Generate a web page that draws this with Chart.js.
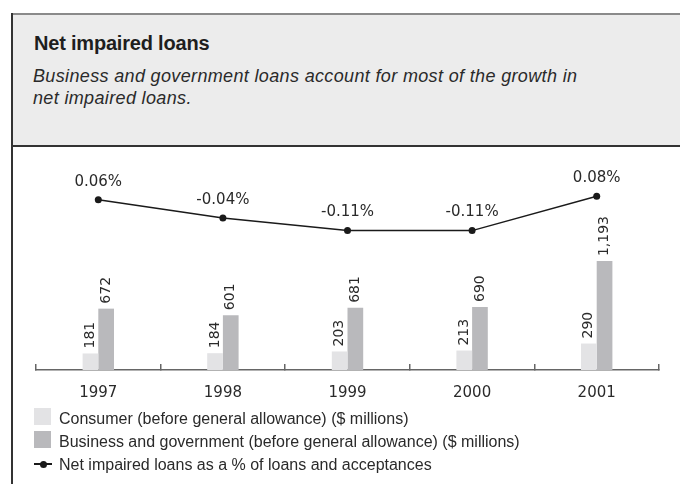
<!DOCTYPE html>
<html><head><meta charset="utf-8">
<script src="https://cdn.jsdelivr.net/npm/chart.js@4.4.0/dist/chart.umd.min.js"></script>
<style>
html,body{margin:0;padding:0;background:#fff;}
body{width:680px;height:484px;position:relative;overflow:hidden;font-family:"Liberation Sans",Arial,sans-serif;color:#222;}
.abs{position:absolute;}
#hbg{left:12px;top:14px;width:668px;height:131px;background:#ececec;}
#htop{left:11px;top:13px;width:669px;height:1.5px;background:#8a8a8a;}
#hbot{left:11px;top:145px;width:669px;height:2px;background:#333;}
#lline{left:11px;top:13px;width:1.6px;height:471px;background:#333;}
#title{left:34px;top:31px;font-size:20px;line-height:24px;font-weight:bold;letter-spacing:-0.2px;white-space:nowrap;color:#1e1e1e;}
#sub{left:33px;top:65px;font-size:18px;line-height:22px;font-style:italic;letter-spacing:0.35px;white-space:nowrap;color:#2a2a2a;}
#wrap{left:0;top:147px;width:680px;height:280px;}
.sw{position:absolute;width:17px;height:17px;}
.lt{position:absolute;font-size:16px;line-height:20px;white-space:nowrap;color:#2a2a2a;}
</style>
</head><body>
<div id="hbg" class="abs"></div>
<div id="htop" class="abs"></div>
<div id="hbot" class="abs"></div>
<div id="lline" class="abs"></div>
<div id="title" class="abs">Net impaired loans</div>
<div id="sub" class="abs">Business and government loans account for most of the growth in<br>net impaired loans.</div>
<div id="wrap" class="abs"><canvas id="c"></canvas></div>
<div id="legend"></div>
<script>
const years = ['1997', '1998', '1999', '2000', '2001'];
const consumer = [181, 184, 203, 213, 290];
const business = [672, 601, 681, 690, 1193];
const netPct = [0.06, -0.04, -0.11, -0.11, 0.08];
const seriesNames = [
  'Consumer (before general allowance) ($ millions)',
  'Business and government (before general allowance) ($ millions)',
  'Net impaired loans as a % of loans and acceptances'
];
const colors = ['#e3e3e5', '#b9b9bc', '#1a1a1a'];

// legend
(function(){
  const lg = document.getElementById('legend');
  const tops = [408, 431, 454];
  seriesNames.forEach((name, i) => {
    if (i < 2) {
      const s = document.createElement('div');
      s.className = 'sw';
      s.style.left = '34px'; s.style.top = tops[i] + 'px';
      s.style.background = colors[i];
      lg.appendChild(s);
    } else {
      const l = document.createElement('div');
      l.className = 'abs';
      l.style.cssText = 'left:34px;top:463.3px;width:18px;height:1.5px;background:' + colors[2];
      lg.appendChild(l);
      const d = document.createElement('div');
      d.className = 'abs';
      d.style.cssText = 'left:39.5px;top:460.5px;width:7px;height:7px;border-radius:50%;background:' + colors[2];
      lg.appendChild(d);
    }
    const t = document.createElement('div');
    t.className = 'lt';
    t.style.left = '59px'; t.style.top = (tops[i] + 0.5) + 'px';
    t.textContent = name;
    lg.appendChild(t);
  });
})();

const labelPlugin = {
  id: 'valueLabels',
  afterDatasetsDraw(chart) {
    const ctx = chart.ctx;
    [0, 1].forEach(di => {
      const meta = chart.getDatasetMeta(di);
      meta.data.forEach((bar, i) => {
        const v = chart.data.datasets[di].data[i];
        ctx.save();
        ctx.translate(bar.x, bar.y - 5);
        ctx.rotate(-Math.PI / 2);
        ctx.font = '14px "DejaVu Sans"';
        ctx.fillStyle = '#2a2a2a';
        ctx.textAlign = 'left';
        ctx.textBaseline = 'middle';
        ctx.fillText(v.toLocaleString('en-US'), 0, 0);
        ctx.restore();
      });
    });
    const lm = chart.getDatasetMeta(2);
    lm.data.forEach((pt, i) => {
      const v = chart.data.datasets[2].data[i];
      ctx.save();
      ctx.font = '15px "DejaVu Sans"';
      ctx.fillStyle = '#2a2a2a';
      ctx.textAlign = 'center';
      ctx.textBaseline = 'middle';
      ctx.fillText(v.toFixed(2) + '%', pt.x, pt.y - 18);
      ctx.restore();
    });
  }
};

new Chart(document.getElementById('c'), {
  data: {
    labels: years,
    datasets: [
      { type: 'bar', label: seriesNames[0], data: consumer, backgroundColor: colors[0], yAxisID: 'y', categoryPercentage: 0.252, barPercentage: 1, order: 2 },
      { type: 'bar', label: seriesNames[1], data: business, backgroundColor: colors[1], yAxisID: 'y', categoryPercentage: 0.252, barPercentage: 1, order: 2 },
      { type: 'line', label: seriesNames[2], data: netPct, yAxisID: 'y2', borderColor: colors[2], borderWidth: 1.5, pointRadius: 3.5, pointBackgroundColor: colors[2], pointBorderWidth: 0, tension: 0, order: 0 }
    ]
  },
  options: {
    responsive: true,
    maintainAspectRatio: false,
    animation: false,
    layout: { padding: { left: 36, right: 21, top: 13, bottom: 5 } },
    plugins: { legend: { display: false }, tooltip: { enabled: false }, title: { display: false } },
    scales: {
      x: {
        offset: true,
        grid: { offset: true, drawOnChartArea: false, drawTicks: true, tickLength: -6, color: '#666', lineWidth: 1.5 },
        border: { display: true, color: '#666', width: 1.5 },
        ticks: { font: { family: 'DejaVu Sans', size: 15 }, color: '#2a2a2a', padding: 20 }
      },
      y: { display: false, min: 0, max: 2300 },
      y2: { display: false, min: -0.88, max: 0.28 }
    }
  },
  plugins: [labelPlugin]
});
</script>
</body></html>
